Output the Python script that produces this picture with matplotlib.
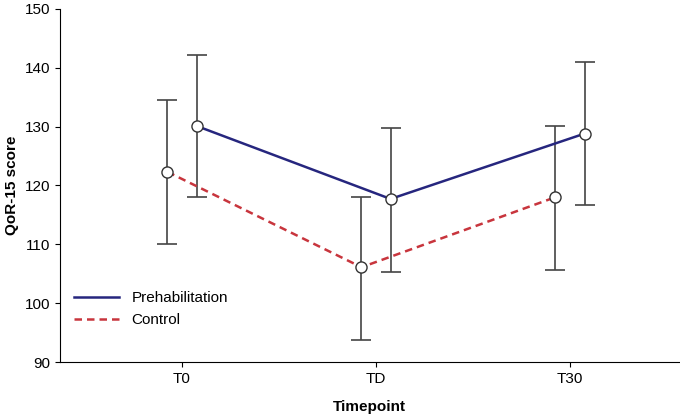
import matplotlib
matplotlib.use("Agg")
import matplotlib.pyplot as plt
import numpy as np

plt.rcParams["font.family"] = ["Liberation Sans", "DejaVu Sans"]

timepoints = ["T0", "TD", "T30"]
prehab_mean = [130.1, 117.7, 128.8]
prehab_low = [118.0, 105.3, 116.6]
prehab_high = [142.2, 129.8, 141.0]
control_mean = [122.3, 106.1, 118.0]
control_low = [110.0, 93.8, 105.7]
control_high = [134.5, 118.1, 130.1]

x = np.arange(len(timepoints))
fig = plt.figure(figsize=(6.8, 4.19), dpi=100)
ax = fig.add_axes([0.088, 0.136, 0.91, 0.843])

def draw(xs, mean, low, high, color, ls, label):
    mean = np.array(mean)
    err = [mean - np.array(low), np.array(high) - mean]
    ax.errorbar(xs, mean, yerr=err, fmt="none", ecolor="#444444", elinewidth=1.2,
                capsize=7, capthick=1.2, zorder=2)
    ax.plot(xs, mean, color=color, ls=ls, lw=1.8, label=label, zorder=3)
    ax.plot(xs, mean, "o", ms=8, mfc="white", mec="#333333", mew=1.0, zorder=4)

draw(x - 0.075, control_mean, control_low, control_high, "#c8353d", (0, (3, 2)), "Control")
draw(x + 0.075, prehab_mean, prehab_low, prehab_high, "#26267e", "-", "Prehabilitation")

h, l = ax.get_legend_handles_labels()
ax.legend(h[::-1], l[::-1], loc="lower left", bbox_to_anchor=(0.0, 0.06), frameon=False,
          fontsize=11, handlelength=3)
ax.set_xlim(-0.63, 2.56)
ax.set_ylim(90, 150)
ax.set_xticks(x)
ax.set_xticklabels(timepoints, fontsize=11)
ax.set_yticks(range(90, 151, 10))
ax.tick_params(labelsize=11)
ax.set_xlabel("Timepoint", fontsize=11, fontweight="bold", labelpad=10)
ax.set_ylabel("QoR-15 score", fontsize=11, fontweight="bold")
ax.spines["top"].set_visible(False)
ax.spines["right"].set_visible(False)
fig.savefig("out.png")
